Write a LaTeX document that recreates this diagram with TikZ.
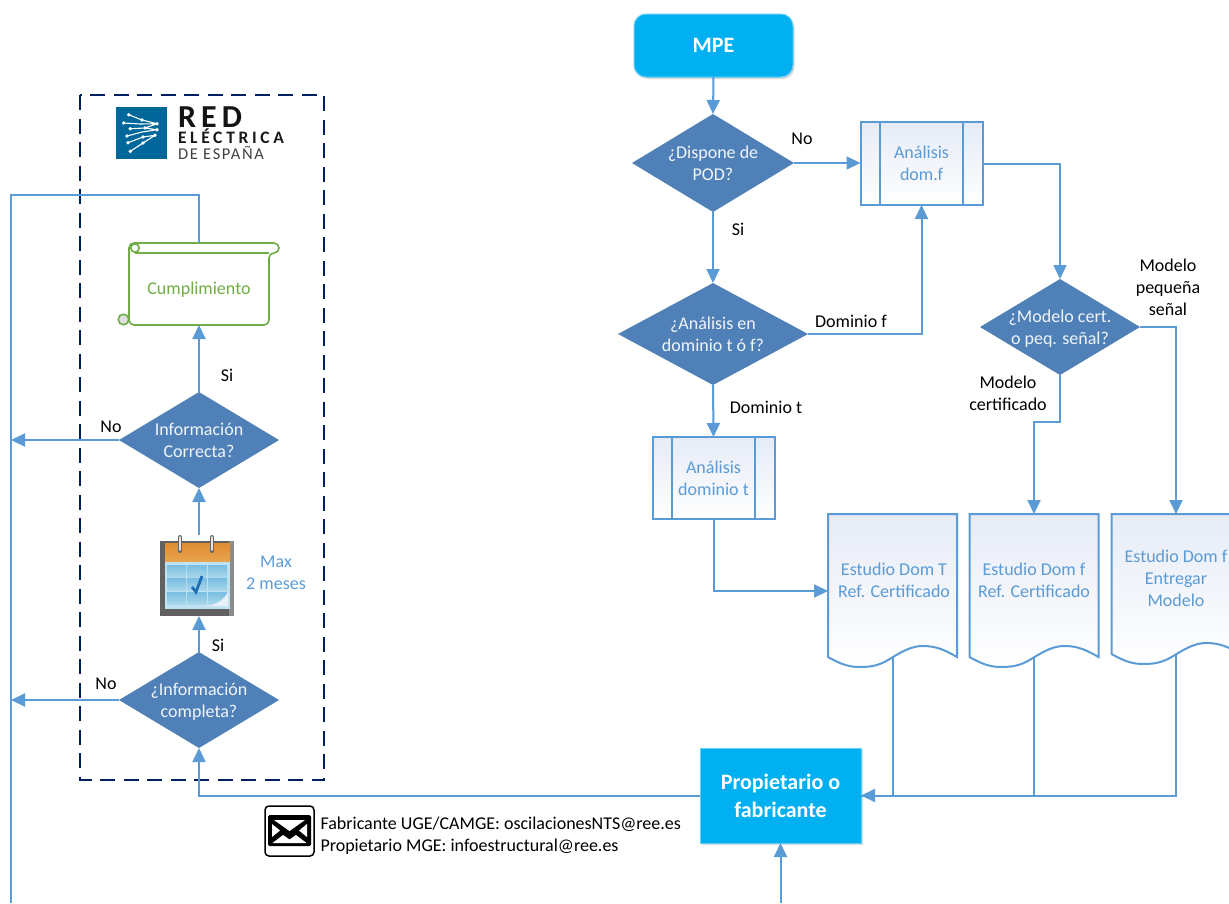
\documentclass[tikz,border=0pt]{standalone}
\usepackage{fontspec}
\setmainfont{Carlito}
\usetikzlibrary{shapes.geometric,arrows.meta,shadows,positioning,calc}
\definecolor{lineblue}{HTML}{5B9BD5}
\definecolor{diafill}{HTML}{4F81B8}
\definecolor{cyanbox}{HTML}{00B0F0}
\definecolor{navy}{HTML}{002060}
\definecolor{scrollgreen}{HTML}{70AD47}
\definecolor{docfill}{HTML}{E6EBF6}
\definecolor{logoblue}{RGB}{0,103,155}
\definecolor{calpale}{RGB}{190,226,240}
\definecolor{calcella}{RGB}{120,190,225}
\definecolor{calcellb}{RGB}{170,215,235}
\definecolor{calcheck}{RGB}{30,110,180}
\definecolor{calorangea}{RGB}{222,140,50}
\definecolor{calorangeb}{RGB}{232,165,80}
\tikzset{
  base/.style={outer sep=0pt,font=\fontsize{18}{22}\selectfont,align=center},
  dia/.style={base,diamond,fill=diafill,text=white!92!diafill,inner sep=-14pt,aspect=1.65},
  cyan box/.style={base,fill=cyanbox,draw=cyanbox!60!white,line width=1pt,text=white,font=\fontsize{22}{28}\selectfont\bfseries,
    general shadow={fill=black!15,shadow xshift=1.5pt,shadow yshift=-2pt}},
  paper/.style={shade,shading angle=45,top color=docfill,bottom color=white},
  subproc/.style={base,rectangle,draw=lineblue,line width=2pt,text=lineblue,paper},
  docbox/.style={outer sep=0pt,inner sep=0pt},
  doctext/.style={base,text=lineblue},
  lab/.style={base,text=black,inner sep=0pt},
  conn/.style={draw=lineblue,line width=2pt},
  arr/.style={conn,-{Triangle[length=14pt,width=13pt,fill=lineblue]}},
  logo/.style={white,line width=1.1pt},
  scrollline/.style={scrollgreen,line width=1.6pt},
}
\newcommand{\docshape}[1]{%
  \draw[lineblue,line width=2pt,paper]
    (#1.north west) -- (#1.north east) -- (#1.south east)
    .. controls ($(#1.south west)+(117,-7)$) and ($(#1.south west)+(108,-11)$) .. ($(#1.south west)+(95,-11)$)
    .. controls ($(#1.south west)+(84,-11)$) and ($(#1.south west)+(75,-6)$) .. ($(#1.south west)+(65,0)$)
    .. controls ($(#1.south west)+(54,7)$) and ($(#1.south west)+(47,10)$) .. ($(#1.south west)+(32,10)$)
    .. controls ($(#1.south west)+(22,10)$) and ($(#1.south west)+(14,8)$) .. (#1.south west)
    -- cycle;}
\newcommand{\subprocbars}[1]{%
  \draw[lineblue,line width=2pt] ([xshift=19pt]#1.north west) -- ([xshift=19pt]#1.south west)
     ([xshift=-20pt]#1.north east) -- ([xshift=-20pt]#1.south east);}
\newcommand{\logoline}[2]{\hbox{\smash{#1#2}}}
\newcommand{\nodepth}[1]{\raisebox{0pt}[\height][0pt]{#1}}
\begin{document}
\begin{tikzpicture}[x=1pt,y=-1pt]
\path[clip] (0,0) rectangle (1229,903);
\fill[white] (0,0) rectangle (1229,903);

% dashed frame
\draw[navy,line width=2.4pt,dash pattern=on 15pt off 8.5pt] (80,95) rectangle (324,780);

% logo
\fill[logoblue] (116,107) rectangle (167,159);
\draw[logo] (128.7,114.7) -- (142,120) -- (157,123.7)
  (123.7,123) -- (140,124) -- (157,123.7)
  (130.3,128.7) -- (145,128) -- (157,123.7)
  (130.3,128.7) -- (145,128) -- (157,129.7)
  (127,136) -- (142,132) -- (157,129.7)
  (128,142.7) -- (143,137) -- (155,135.3)
  (130.3,151.3) -- (143,143) -- (155,135.3);
\foreach \p in {(128.7,114.7),(123.7,123),(130.3,128.7),(127,136),(128,142.7),(130.3,151.3),(157,123.7),(157,129.7),(155,135.3),(142,120),(145,128),(143,137),(143,143)}
  \fill[white] \p circle (1.9);
\node[anchor=south west,inner sep=0pt,outer sep=0pt] (logotext) at (178,159) {\vbox{\offinterlineskip
  \kern20pt\logoline{\color{black!92}\fontsize{32}{32}\selectfont\bfseries\addfontfeatures{LetterSpace=16}}{RED}
  \kern16.5pt\logoline{\color{black!90}\fontsize{17.5}{18}\selectfont\bfseries\addfontfeatures{LetterSpace=21}}{ELÉCTRICA}
  \kern15.5pt\logoline{\color{black!75}\fontsize{16.5}{17}\selectfont\addfontfeatures{LetterSpace=10}}{DE ESPAÑA}}};

% right-hand flow
\node[cyan box,rounded corners=12pt,minimum width=159pt,minimum height=63pt] (mpe) at (713.5,45.5) {MPE};
\node[dia,minimum width=162pt,minimum height=98pt] (d1) at (713,163) {¿Dispone de\\POD?};
\node[subproc,minimum width=122pt,minimum height=83pt] (af) at (921.5,163.5) {Análisis\\dom.f};
\subprocbars{af}
\node[dia,minimum width=190pt,minimum height=102pt,inner sep=-16pt] (d2) at (713,334) {¿Análisis en\\dominio t ó f?};
\node[subproc,minimum width=122pt,minimum height=82pt] (at) at (713.5,478) {Análisis\\dominio t};
\subprocbars{at}
\node[dia,minimum width=160pt,minimum height=96pt] (d3) at (1060,327) {¿Modelo cert.\\\nodepth{o peq. señal?}};

\node[docbox,minimum width=129pt,minimum height=143pt] (doc1) at (892.5,585.5) {};
\docshape{doc1}
\node[doctext] (t1) at (894,580) {Estudio Dom T\\Ref. Certificado};
\node[docbox,minimum width=129pt,minimum height=143pt] (doc2) at (1034,585.5) {};
\docshape{doc2}
\node[doctext] (t2) at (1034,580) {Estudio Dom f\\Ref. Certificado};
\node[docbox,minimum width=129pt,minimum height=140pt] (doc3) at (1176,584) {};
\docshape{doc3}
\node[doctext] (t3) at (1176,578) {Estudio Dom f\\Entregar\\Modelo};

\node[cyan box,minimum width=161pt,minimum height=95pt] (prop) at (780.5,795.5) {Propietario o\\fabricante};

% left-hand flow
\node[dia,minimum width=160pt,minimum height=96pt] (d4) at (199,440) {Información\\Correcta?};
\node[dia,minimum width=160pt,minimum height=96pt] (d5) at (199,700) {¿Información\\\nodepth{completa?}};

% scroll
\draw[scrollline,rounded corners=5pt,fill=white]
  (129,325) -- (129,243) -- (279,243) -- (279,253) -- (269,253) -- (269,325) -- cycle;
\draw[scrollline] (135,253) -- (269,253);
\draw[scrollline] (135,248) circle (4.2);
\draw[scrollline,fill=black!12] (123.5,319.5) circle (5.3);
\node[base,minimum width=140pt,minimum height=74pt,inner sep=0pt,text=scrollgreen] (cump) at (199,288) {\nodepth{Cumplimiento}};

% calendar
\fill[black!62] (160,541) rectangle (234,616);
\fill[black!45] (229,541) rectangle (234,616);
\shade[top color=calorangea,bottom color=calorangeb] (165,543) rectangle (230,562);
\fill[calpale] (165,562) rectangle (230,609);
\foreach \i in {0,1,2} \foreach \j in {0,1,2}
  \shade[top color=calcella,bottom color=calcellb]
    ({167+\i*20.5},{565+\j*13.5}) rectangle ({186+\i*20.5},{577+\j*13.5});
\fill[white!85!lineblue] (206,606) .. controls (216,605) and (224,600) .. (228,592) -- (228,606) -- cycle;
\draw[calcheck,line width=2.8pt] (192,587) -- (196,592) -- (202,576);
\foreach \x in {180,212} {
  \draw[black!60,line width=4pt,line cap=round] (\x,537) -- (\x,551);
  \draw[white!90!black,line width=1.8pt,line cap=round] (\x,537) -- (\x,550);
}
\coordinate (caltop) at (199,535);
\coordinate (calbot) at (199,616);
\node[doctext] (maxlab) at (276,573) {Max\\2 meses};

% connectors
\coordinate (leftbot) at (11,903);
\coordinate (scrolltop) at (199,243);
\coordinate (bottomin) at (780.5,903);
\coordinate (leftrail) at (11,195);
\coordinate (railb) at (11,440);
\coordinate (railc) at (11,700);
\coordinate (d3turn) at (1060,422);
\coordinate (d3turnb) at (1034,422);
\draw[arr] (mpe.south) -- (d1.north);
\draw[arr] (d1.south) -- (d2.north);
\draw[arr] (d1.east) -- (d1.east -| af.west);
\draw[arr] (d2.east) -| (af.south);
\draw[arr] (d2.south) -- (at.north);
\draw[arr] (at.south) |- (doc1.west |- 0,591);
\draw[arr] (af.east) -| (d3.north);
\draw[arr] (d3.south) -- (d3turn) -- (d3turnb) -- (doc2.north);
\draw[arr] (d3.east) -| (doc3.north);
\draw[conn] (doc2.south) |- (prop.east);
\draw[conn] (doc3.south) |- (prop.east);
\draw[arr] (doc1.south) |- (prop.east);
\draw[arr] (prop.west) -| (d5.south);
\draw[arr] (bottomin) -- (prop.south);
\draw[arr] (d5.north) -- (calbot);
\draw[arr] (caltop) -- (d4.south);
\draw[arr] (d4.north) -- (cump.south);
\draw[conn] (scrolltop) |- (leftrail) -- (leftbot);
\draw[arr] (d4.west) -- (railb);
\draw[arr] (d5.west) -- (railc);

% labels
\node[lab] (l1) at (802,139) {No};
\node[lab] (l2) at (738,229) {Si};
\node[lab] (l3) at (851,321) {Dominio f};
\node[lab] (l4) at (766,407) {Dominio t};
\node[lab] (l5) at (1008,393) {Modelo\\certificado};
\node[lab] (l6) at (1168,287) {Modelo\\pequeña\\señal};
\node[lab] (l7) at (227,375) {Si};
\node[lab] (l8) at (111,427) {No};
\node[lab] (l9) at (218,645) {Si};
\node[lab] (l10) at (106,684) {No};

% mail
\draw[black,line width=1.5pt,rounded corners=4pt,fill=white] (265,806) rectangle (314,856);
\fill[black,rounded corners=1.5pt] (268,815) rectangle (311,846);
\fill[white] (274,820) -- (289.5,831) -- (305,820) -- cycle;
\fill[white] (272.5,843) -- (283,835) -- (289.5,839.5) -- (296,835) -- (306.5,843) -- cycle;
\fill[white] (272,824) -- (280,830.5) -- (272,837) -- cycle;
\fill[white] (307,824) -- (299,830.5) -- (307,837) -- cycle;
\node[base,anchor=west,align=left,inner sep=0pt,text=black] (mail) at (320.5,835.5) {Fabricante UGE/CAMGE: oscilacionesNTS@ree.es\\Propietario MGE: infoestructural@ree.es};
\end{tikzpicture}
\end{document}
